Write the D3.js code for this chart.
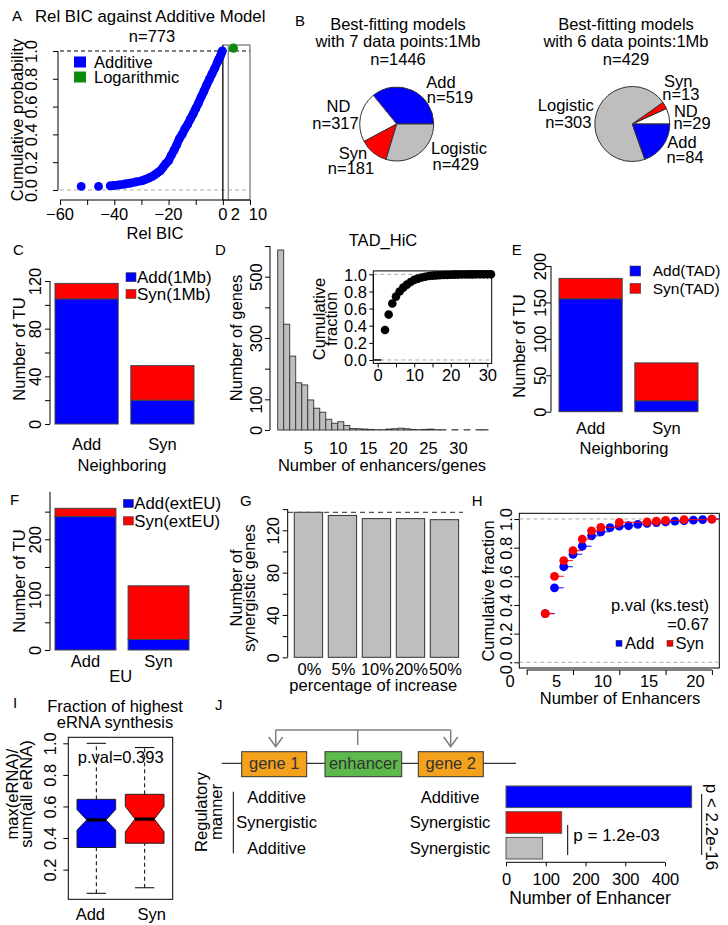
<!DOCTYPE html>
<html><head><meta charset="utf-8">
<script src="https://cdn.jsdelivr.net/npm/d3@7"></script>
<style>
body{margin:0;background:#fff;}
svg text{font-family:"Liberation Sans",Arial,Helvetica,sans-serif;}
</style></head><body>
<svg id="fig" width="728" height="925"></svg>
<script>
// ---------------- DATA ----------------
// A: cumulative distribution of relative BIC
const aRelBIC = [-52.2,-45.8,-41.5,-40,-38,-36,-34,-32,-30,-29,-28,-27,-26,-25,-24,-23,-22,-21,-20,-19,-18,-17,-16,-15,-14,-13,-12,-11,-10,-9,-8,-7,-6,-5,-4,-3,-2,-1.5,-1,-0.5,-0.2];
const aCumProb = [0.026,0.026,0.03,0.033,0.037,0.043,0.05,0.058,0.066,0.072,0.08,0.088,0.098,0.11,0.125,0.14,0.165,0.19,0.21,0.25,0.285,0.325,0.37,0.40,0.44,0.47,0.51,0.545,0.585,0.625,0.67,0.71,0.755,0.795,0.835,0.875,0.92,0.94,0.96,0.985,1.0];
const aLogRelBIC = [3.9];
const aLogCumProb = [1.02];
const aXTicks = [-60,-50,-40,-30,-20,-10,0,10];
const aXLabels = [-60,-40,-20,0,2,10];
const aYTicks = [0,0.2,0.4,0.6,0.8,1.0];

// B: pies (counter-clockwise from 3 o'clock, R style)
const pie1Cats = ["Add","ND","Syn","Logistic"];
const pie1Vals = [519,317,181,429];
const pie2Cats = ["ND","Syn","Logistic","Add"];
const pie2Vals = [29,13,303,84];

// C, E, F: stacked bars
const tuCats = ["Add","Syn"];
const cAddVals = [105,20];
const cSynVals = [13,29];
const eAddVals = [155,15];
const eSynVals = [28,52];
const fAddVals = [241,19];
const fSynVals = [15,97];

// D: histogram of enhancers per gene + inset ECDF
const dBins = [1,2,3,4,5,6,7,8,9,10,11,12,13,14,15,16,17,18,19,20,21,22,23,24,25,26,27,28,29,30,31,32,33,34,35];
const dCounts = [587,345,241,154,147,98,71,58,35,22,27,15,5,4,3,2,1,1,3,4,6,4,2,1,2,3,1,1,0,1,0,1,0,1,1];
const dXLabels = [5,10,15,20,25,30];
const dYTicks = [0,100,200,300,400,500,600];
const dYLabels = [0,100,300,500];
const dInsetX = [2,3,4,5,6,7,8,9,10,11,12,13,14,15,16,17,18,19,20,21,22,23,24,25,26,27,28,29,30,31];
const dInsetY = [0.35,0.53,0.66,0.74,0.80,0.845,0.88,0.91,0.935,0.95,0.963,0.972,0.98,0.985,0.988,0.99,0.992,0.993,0.995,0.996,0.997,0.998,0.998,0.999,0.999,1,1,1,1,1];

// G
const gCats = ["0%","5%","10%","20%","50%"];
const gVals = [137,134,131,131,130];

// H: ECDF of number of enhancers
const hAddX = [2,3,4,5,6,7,8,9,10,11,12,13,14,15,16,17,18,19,20];
const hAddY = [0.34,0.52,0.667,0.754,0.81,0.883,0.911,0.94,0.95,0.953,0.963,0.97,0.975,0.98,0.985,0.988,0.992,0.996,1.0];
const hSynX = [2,3,4,5,6,7,8,10,13,14,15,17,20];
const hSynY = [0.34,0.60,0.71,0.78,0.86,0.918,0.942,0.977,0.98,0.985,0.99,0.996,1.0];

// I: boxplots
const iCats = ["Add","Syn"];
const iMin = [0.05,0.085];
const iQ1 = [0.34,0.367];
const iMed = [0.515,0.52];
const iQ3 = [0.645,0.677];
const iMax = [1.0,0.973];
const iNotchLo = [0.45,0.44];
const iNotchHi = [0.58,0.60];

// J
const jGene1 = ["Additive","Synergistic","Additive"];
const jGene2 = ["Additive","Synergistic","Synergistic"];
const jVals = [467,140,92];
const jTicks = [0,100,200,300,400];

// ---------------- HELPERS ----------------
const BLUE="#0000FF", RED="#FF0000", GRAY="#BEBEBE", GREEN="#0b8a0b";
const FS=16.5;
const svg = d3.select("#fig");
svg.append("rect").attr("width",728).attr("height",925).attr("fill","#fff");

function T(g,x,y,s,o={}){
  const size=o.size||FS;
  const t=g.append("text").attr("font-size",size).attr("text-anchor",o.anchor||"middle")
    .attr("fill",o.fill||"#000").text(s);
  if(o.rotate){t.attr("transform",`translate(${x},${y}) rotate(${o.rotate})`).attr("dy",size*0.35);}
  else t.attr("x",x).attr("y",y).attr("dy",size*0.35);
  return t;
}
function L(g,x1,y1,x2,y2,stroke="#000",w=1,dash=null){
  const l=g.append("line").attr("x1",x1).attr("y1",y1).attr("x2",x2).attr("y2",y2)
    .attr("stroke",stroke).attr("stroke-width",w);
  if(dash) l.attr("stroke-dasharray",dash);
  return l;
}
function yAxis(g,scale,x,ticks,labeled,labelX,fmt,opts={}){
  const ax=d3.axisLeft(scale).tickValues(ticks).tickSize(opts.tickSize||5).tickSizeOuter(0)
    .tickFormat(d=>labeled.includes(d)?fmt(d):"");
  const a=g.append("g").attr("transform",`translate(${x},0)`).call(ax);
  a.select(".domain").remove();
  if(!opts.noLine){
    const hi=opts.lineTo!==undefined?opts.lineTo:ticks[ticks.length-1];
    a.append("line").attr("y1",scale(ticks[0])).attr("y2",scale(hi)).attr("stroke","#000");
  }
  a.selectAll(".tick line").attr("stroke","#000");
  const tx=a.selectAll(".tick text").attr("font-size",opts.size||FS).attr("fill","#000")
    .attr("x",0).attr("y",0).attr("dy",(opts.size||FS)*0.35);
  if(opts.horizontal) tx.attr("x",labelX-x).attr("text-anchor","end");
  else tx.attr("transform",`translate(${labelX-x},0) rotate(-90)`).attr("text-anchor","middle");
  return a;
}
function xAxis(g,scale,y,ticks,labeled,labelY,fmt,opts={}){
  const ax=d3.axisBottom(scale).tickValues(ticks).tickSize(opts.tickSize===undefined?5:opts.tickSize)
    .tickSizeOuter(0).tickFormat(d=>labeled.includes(d)?fmt(d):"");
  const a=g.append("g").attr("transform",`translate(0,${y})`).call(ax);
  a.select(".domain").remove();
  if(!opts.noLine) a.append("line").attr("x1",scale(ticks[0])).attr("x2",scale(ticks[ticks.length-1])).attr("stroke","#000");
  a.selectAll(".tick line").attr("stroke","#000");
  a.selectAll(".tick text").attr("font-size",FS).attr("fill","#000")
    .attr("y",labelY-y).attr("dy",FS*0.35).attr("dx",opts.dx||0);
  return a;
}
const minus = v => v<0 ? "\u2212"+Math.abs(v) : String(v);
const f1 = d3.format(".1f");

// ---------------- PANEL A ----------------
{
  const g=svg.append("g");
  const x=d3.scaleLinear().domain([-60,10]).range([60,250]);
  const y=d3.scaleLinear().domain([-0.072,1.043]).range([200,45]);
  L(g,x(-60),y(0),x(10),y(0),"#aaa",1,"4,3");
  L(g,x(-60),y(1),x(10),y(1),"#000",1,"4,3");
  g.append("rect").attr("x",x(0)).attr("y",y(1.043)).attr("width",x(10)-x(0))
    .attr("height",y(-0.072)-y(1.043)).attr("fill","none").attr("stroke","#555");
  L(g,x(0),y(1.043),x(0),y(-0.072),"#000",1);
  L(g,x(2),y(1.043),x(2),y(-0.072),"#888",1.3);
  xAxis(g,x,y(-0.072),aXTicks,[],214,d=>"");
  aXLabels.forEach(v=>T(g,x(v)+(v===2?7:(v===10?8:0)),214,minus(v)));
  yAxis(g,y,58,aYTicks,aYTicks,31.7,f1);
  const pts=aRelBIC.map((v,i)=>[v,aCumProb[i]]);
  g.append("path").attr("d",d3.line().x(d=>x(d[0])).y(d=>y(d[1]))(pts.slice(2)))
    .attr("fill","none").attr("stroke",BLUE).attr("stroke-width",8.5).attr("stroke-linecap","round").attr("stroke-linejoin","round");
  g.selectAll(null).data(pts).join("circle").attr("cx",d=>x(d[0])).attr("cy",d=>y(d[1])).attr("r",4.4).attr("fill",BLUE);
  g.selectAll(null).data(aLogRelBIC).join("circle").attr("cx",d=>x(d)).attr("cy",(d,i)=>y(aLogCumProb[i])).attr("r",4.6).attr("fill",GREEN);
  g.append("rect").attr("x",74).attr("y",56.5).attr("width",12).attr("height",11).attr("fill",BLUE);
  g.append("rect").attr("x",74).attr("y",71.5).attr("width",12).attr("height",11).attr("fill",GREEN);
  T(g,94,62,"Additive",{anchor:"start"});
  T(g,94,77,"Logarithmic",{anchor:"start"});
  T(g,12,16,"A",{anchor:"start",size:15});
  T(g,35,16,"Rel BIC against Additive Model",{anchor:"start",size:16.8});
  T(g,152,36,"n=773");
  T(g,155,233,"Rel BIC");
  T(g,17.5,120,"Cumulative probability",{rotate:-90});
}

// ---------------- PANEL B ----------------
{
  const g=svg.append("g");
  T(g,295,21,"B",{anchor:"start",size:15});
  const pie=d3.pie().sort(null).value(d=>d).startAngle(Math.PI/2).endAngle(Math.PI/2-2*Math.PI);
  const colorOf={Add:BLUE,ND:"#fff",Syn:RED,Logistic:GRAY};
  function drawPie(cx,cy,r,cats,vals){
    const arc=d3.arc().innerRadius(0).outerRadius(r);
    const gp=g.append("g").attr("transform",`translate(${cx},${cy})`);
    gp.selectAll("path").data(pie(vals)).join("path").attr("d",arc)
      .attr("fill",(d,i)=>colorOf[cats[i]]).attr("stroke","#333").attr("stroke-width",1);
  }
  drawPie(396.7,124,37,pie1Cats,pie1Vals);
  drawPie(632.3,124,37.5,pie2Cats,pie2Vals);
  T(g,398,24.5,"Best-fitting models");
  T(g,398,41,"with 7 data points:1Mb");
  T(g,398,59,"n="+d3.sum(pie1Vals));
  T(g,626,24.5,"Best-fitting models");
  T(g,626,41,"with 6 data points:1Mb");
  T(g,626,59,"n="+d3.sum(pie2Vals));
  const v1=Object.fromEntries(pie1Cats.map((c,i)=>[c,pie1Vals[i]]));
  const v2=Object.fromEntries(pie2Cats.map((c,i)=>[c,pie2Vals[i]]));
  T(g,441,82,"Add"); T(g,450,97.5,"n="+v1.Add);
  T(g,338.5,106,"ND"); T(g,335.5,123,"n="+v1.ND);
  T(g,353,153,"Syn"); T(g,351,168.3,"n="+v1.Syn);
  T(g,459,148.3,"Logistic"); T(g,455.7,164,"n="+v1.Logistic);
  T(g,678.3,81.7,"Syn"); T(g,680.8,94.7,"n="+v2.Syn);
  T(g,685.8,111.7,"ND"); T(g,692,123.7,"n="+v2.ND);
  T(g,682,142,"Add"); T(g,685,157,"n="+v2.Add);
  T(g,565.8,105.5,"Logistic"); T(g,568.3,122.5,"n="+v2.Logistic);
}

// ---------------- stacked bar helper ----------------
function stacked(g,cats,addVals,synVals,xRange,yScale){
  const x=d3.scaleBand().domain(cats).range(xRange).paddingInner(1/6);
  const rows=cats.map((c,i)=>({cat:c,add:addVals[i],syn:synVals[i]}));
  const series=d3.stack().keys(["add","syn"])(rows);
  g.selectAll(null).data(series).join("g").attr("fill",(d,i)=>[BLUE,RED][i])
    .selectAll("rect").data(d=>d).join("rect")
    .attr("x",d=>x(d.data.cat)).attr("width",x.bandwidth())
    .attr("y",d=>yScale(d[1])).attr("height",d=>yScale(d[0])-yScale(d[1]))
    .attr("stroke","#444").attr("stroke-width",1);
  return x;
}
function legend2(g,sx,sy1,sy2,w,h,tx,labels,size){
  g.append("rect").attr("x",sx).attr("y",sy1).attr("width",w).attr("height",h).attr("fill",BLUE).attr("stroke","#444").attr("stroke-width",0.6);
  g.append("rect").attr("x",sx).attr("y",sy2).attr("width",w).attr("height",h).attr("fill",RED).attr("stroke","#444").attr("stroke-width",0.6);
  T(g,tx,sy1+h/2,labels[0],{anchor:"start",size:size||FS});
  T(g,tx,sy2+h/2,labels[1],{anchor:"start",size:size||FS});
}

// ---------------- PANEL C ----------------
{
  const g=svg.append("g");
  const y=d3.scaleLinear().domain([0,120]).range([424,281]);
  const x=stacked(g,tuCats,cAddVals,cSynVals,[55,194],y);
  yAxis(g,y,50,[0,20,40,60,80,100,120],[0,40,80,120],35,d=>d);
  tuCats.forEach(c=>T(g,x(c)+x.bandwidth()/2,444,c));
  T(g,122,465,"Neighboring");
  T(g,19,349,"Number of TU",{rotate:-90});
  legend2(g,126,272.7,289.5,10,9,137,["Add(1Mb)","Syn(1Mb)"],17);
  T(g,13,250,"C",{anchor:"start",size:15});
}

// ---------------- PANEL D ----------------
{
  const g=svg.append("g");
  const x=d3.scaleLinear().domain([0,35]).range([277.7,488]);
  const y=d3.scaleLinear().domain([0,600]).range([430,246]);
  g.selectAll(null).data(dBins).join("rect")
    .attr("x",d=>x(d-1)).attr("width",d=>x(d)-x(d-1))
    .attr("y",(d,i)=>y(dCounts[i])).attr("height",(d,i)=>y(0)-y(dCounts[i]))
    .attr("fill",GRAY).attr("stroke","#333").attr("stroke-width",0.9);
  yAxis(g,y,270,dYTicks,dYLabels,255.8,d=>d);
  xAxis(g,x,430,dXLabels,dXLabels,448,d=>d,{tickSize:0,noLine:true});
  T(g,382,465,"Number of enhancers/genes");
  T(g,236,338,"Number of genes",{rotate:-90});
  T(g,383,240,"TAD_HiC");
  T(g,215,250,"D",{anchor:"start",size:15});
  // inset
  const xi=d3.scaleLinear().domain([-1.2,31.2]).range([373.3,491.7]);
  const yi=d3.scaleLinear().domain([-0.04,1.04]).range([363.4,270.9]);
  g.append("rect").attr("x",xi(-1.2)).attr("y",yi(1.04)).attr("width",xi(31.2)-xi(-1.2))
    .attr("height",yi(-0.04)-yi(1.04)).attr("fill","#fff").attr("stroke","#000");
  L(g,xi(-1.2),yi(0),xi(31.2),yi(0),"#aaa",1,"4,3");
  L(g,xi(-1.2),yi(1),xi(31.2),yi(1),"#aaa",1,"4,3");
  L(g,xi(-1.1),yi(0),xi(1),yi(0),"#000",1.5);
  const ip=dInsetX.map((v,i)=>[v,dInsetY[i]]);
  g.selectAll(null).data(ip.slice(0,-1)).join("line")
    .attr("x1",d=>xi(d[0])).attr("x2",(d,i)=>xi(ip[i+1][0])).attr("y1",d=>yi(d[1])).attr("y2",d=>yi(d[1]))
    .attr("stroke","#000").attr("stroke-width",1.5);
  g.selectAll(null).data(ip).join("circle").attr("cx",d=>xi(d[0])).attr("cy",d=>yi(d[1])).attr("r",4.3).attr("fill","#000");
  xAxis(g,xi,363.4,[0,5,10,15,20,25,30],[0,10,20,30],375.5,d=>d,{tickSize:4});
  yAxis(g,yi,373.3,aYTicks,aYTicks,367,f1,{horizontal:true,tickSize:4});
  T(g,319,319,"Cumulative",{rotate:-90});
  T(g,331.7,319,"fraction",{rotate:-90});
}

// ---------------- PANEL E ----------------
{
  const g=svg.append("g");
  const y=d3.scaleLinear().domain([0,200]).range([411.7,266]);
  const x=stacked(g,tuCats,eAddVals,eSynVals,[559,698],y);
  yAxis(g,y,551,[0,50,100,150,200],[0,50,100,150,200],540.7,d=>d);
  tuCats.forEach(c=>T(g,x(c)+x.bandwidth()/2,428,c));
  T(g,624,448,"Neighboring");
  T(g,519,346,"Number of TU",{rotate:-90});
  legend2(g,630,266,283.3,10.7,10,652.7,["Add(TAD)","Syn(TAD)"],15.5);
  T(g,511.7,250,"E",{anchor:"start",size:15});
}

// ---------------- PANEL F ----------------
{
  const g=svg.append("g");
  const y=d3.scaleLinear().domain([0,200]).range([650,539.3]);
  const x=stacked(g,tuCats,fAddVals,fSynVals,[55,189],y);
  yAxis(g,y,50,[0,50,100,150,200,250],[0,100,200],35,d=>d,{lineTo:286});
  tuCats.forEach(c=>T(g,x(c)+x.bandwidth()/2,661,c));
  T(g,120.7,676,"EU");
  T(g,19,581,"Number of TU",{rotate:-90});
  legend2(g,123.3,499.3,516.7,10,8.3,134.3,["Add(extEU)","Syn(extEU)"],16.8);
  T(g,10,500,"F",{anchor:"start",size:15});
}

// ---------------- PANEL G ----------------
{
  const g=svg.append("g");
  const y=d3.scaleLinear().domain([0,140]).range([657.3,509.1]);
  const x=d3.scaleBand().domain(gCats).range([288.6,464.3]).paddingInner(1/6).paddingOuter(1/6);
  g.selectAll(null).data(gCats).join("rect").attr("x",d=>x(d)).attr("width",x.bandwidth())
    .attr("y",(d,i)=>y(gVals[i])).attr("height",(d,i)=>y(0)-y(gVals[i]))
    .attr("fill",GRAY).attr("stroke","#333").attr("stroke-width",1);
  L(g,288,y(gVals[0]),463,y(gVals[0]),"#555",1.2,"5,4");
  yAxis(g,y,287.7,[0,20,40,60,80,100,120,140],[0,40,80,120],273,d=>d);
  gCats.forEach(c=>T(g,x(c)+x.bandwidth()/2+1,669,c));
  T(g,373.3,685,"percentage of increase");
  T(g,236,588,"Number of",{rotate:-90});
  T(g,249,588,"synergistic genes",{rotate:-90});
  T(g,240,501,"G",{anchor:"start",size:15});
}

// ---------------- PANEL H ----------------
{
  const g=svg.append("g");
  const x=d3.scaleLinear().domain([-0.8,20.8]).range([519.3,719.3]);
  const y=d3.scaleLinear().domain([-0.04,1.04]).range([668,513.3]);
  g.append("rect").attr("x",x(-0.8)).attr("y",y(1.04)).attr("width",x(20.8)-x(-0.8))
    .attr("height",y(-0.04)-y(1.04)).attr("fill","none").attr("stroke","#000");
  L(g,x(-0.8),y(0),x(20.8),y(0),"#aaa",1,"4,3");
  L(g,x(-0.8),y(1),x(20.8),y(1),"#aaa",1,"4,3");
  function ecdf(xs,ys,col){
    const p=xs.map((v,i)=>[v,ys[i]]);
    g.selectAll(null).data(p).join("line")
      .attr("x1",d=>x(d[0])).attr("x2",(d,i)=>i<p.length-1?x(p[i+1][0]):x(20.8))
      .attr("y1",d=>y(d[1])).attr("y2",d=>y(d[1])).attr("stroke",col).attr("stroke-width",1.2).attr("opacity",0.8);
    g.selectAll(null).data(p).join("circle").attr("cx",d=>x(d[0])).attr("cy",d=>y(d[1])).attr("r",4.4).attr("fill",col);
  }
  ecdf(hAddX,hAddY,BLUE);
  ecdf(hSynX,hSynY,RED);
  yAxis(g,y,519.3,aYTicks,aYTicks,506.7,f1,{noLine:true});
  xAxis(g,x,670,[0,5,10,15,20],[0,5,10,15,20],681,d=>d,{dx:-17});
  T(g,620,698,"Number of Enhancers");
  T(g,488,591,"Cumulative fraction",{rotate:-90});
  T(g,709,605,"p.val (ks.test)",{anchor:"end"});
  T(g,709,624,"=0.67",{anchor:"end"});
  g.append("rect").attr("x",616).attr("y",640.3).attr("width",6).attr("height",6).attr("fill",BLUE).attr("stroke","#333").attr("stroke-width",0.5);
  g.append("rect").attr("x",667).attr("y",640.3).attr("width",6).attr("height",6).attr("fill",RED).attr("stroke","#333").attr("stroke-width",0.5);
  T(g,625,643,"Add",{anchor:"start"});
  T(g,675.5,643,"Syn",{anchor:"start"});
  T(g,471.7,501,"H",{anchor:"start",size:15});
}

// ---------------- PANEL I ----------------
{
  const g=svg.append("g");
  const x=d3.scaleLinear().domain([0.42,2.58]).range([68.3,172.7]);
  const y=d3.scaleLinear().domain([0.012,1.038]).range([899.3,737.3]);
  const fills=[BLUE,RED];
  iCats.forEach((c,i)=>{
    const cx=x(i+1), hw=x(1.4)-x(1), cw=hw/2;
    L(g,cx,y(iQ3[i]),cx,y(iMax[i]),"#000",1,"4,3");
    L(g,cx,y(iMin[i]),cx,y(iQ1[i]),"#000",1,"4,3");
    L(g,cx-cw,y(iMax[i]),cx+cw,y(iMax[i]),"#000",1);
    L(g,cx-cw,y(iMin[i]),cx+cw,y(iMin[i]),"#000",1);
    const pts=[[cx-hw,iQ1[i]],[cx-hw,iNotchLo[i]],[cx-cw,iMed[i]],[cx-hw,iNotchHi[i]],[cx-hw,iQ3[i]],
      [cx+hw,iQ3[i]],[cx+hw,iNotchHi[i]],[cx+cw,iMed[i]],[cx+hw,iNotchLo[i]],[cx+hw,iQ1[i]]];
    g.append("path").attr("d",d3.line().x(d=>d[0]).y(d=>y(d[1]))(pts)+"Z")
      .attr("fill",fills[i]).attr("stroke","#222").attr("stroke-width",1);
    L(g,cx-cw,y(iMed[i]),cx+cw,y(iMed[i]),"#000",3.2);
    T(g,cx+(i===0?-6:7),914,c);
  });
  g.append("rect").attr("x",x(0.42)).attr("y",y(1.038)).attr("width",x(2.58)-x(0.42))
    .attr("height",y(0.012)-y(1.038)).attr("fill","none").attr("stroke","#000");
  yAxis(g,y,68.3,[0.2,0.4,0.6,0.8,1.0],[0.2,0.4,0.6,0.8,1.0],50,f1,{noLine:true});
  T(g,120.7,757.3,"p.val=0.393");
  T(g,115,706,"Fraction of highest");
  T(g,115,722.5,"eRNA synthesis");
  T(g,12.5,794,"max(eRNA)/",{rotate:-90});
  T(g,26,794,"sum(all eRNA)",{rotate:-90});
  T(g,13,703,"I",{anchor:"start",size:15});
}

// ---------------- PANEL J ----------------
{
  const g=svg.append("g");
  T(g,215,705,"J",{anchor:"start",size:15});
  L(g,221.7,763.3,516,763.3,"#000",1);
  const boxes=[["gene 1",241.7,306.7,"#F4A11D"],["enhancer",325,401.7,"#5DB94C"],["gene 2",418.3,483.3,"#F4A11D"]];
  boxes.forEach(b=>{
    g.append("rect").attr("x",b[1]).attr("y",751.7).attr("width",b[2]-b[1]).attr("height",25)
      .attr("fill",b[3]).attr("stroke","#333").attr("stroke-width",1);
    T(g,(b[1]+b[2])/2,763,b[0],{fill:"#333"});
  });
  const ac="#808080";
  L(g,275.7,730,450.7,730,ac,1.5);
  L(g,357.7,730,357.7,745,ac,1.5);
  [275.7,450.7].forEach(ax=>{
    L(g,ax,730,ax,746.5,ac,1.5);
    g.append("path").attr("d",`M${ax-7},737 L${ax},746.7 L${ax+7},737`).attr("fill","none").attr("stroke",ac).attr("stroke-width",1.5);
  });
  const x=d3.scaleLinear().domain([0,400]).range([506,665]);
  const idx=jVals.map((v,i)=>i);
  const y=d3.scaleBand().domain(idx).range([786,859]).paddingInner(0.16);
  const cols=[BLUE,RED,GRAY];
  g.selectAll(null).data(idx).join("rect").attr("x",x(0)).attr("y",d=>y(d))
    .attr("width",d=>x(jVals[d])-x(0)).attr("height",y.bandwidth())
    .attr("fill",d=>cols[d]).attr("stroke","#555").attr("stroke-width",1);
  idx.forEach(i=>{
    T(g,276.7,y(i)+y.bandwidth()/2,jGene1[i]);
    T(g,450,y(i)+y.bandwidth()/2,jGene2[i]);
  });
  xAxis(g,x,862.3,jTicks,jTicks,879,d=>d,{tickSize:4});
  T(g,590,898,"Number of Enhancer",{size:17.5});
  L(g,233.3,791.7,233.3,853.3,"#000",1);
  T(g,201.7,812,"Regulatory",{rotate:-90});
  T(g,216,812,"manner",{rotate:-90});
  L(g,567.7,825,567.7,855,"#000",1);
  T(g,573.3,835,"p = 1.2e-03",{anchor:"start",size:17});
  L(g,701.7,794,701.7,855,"#000",1);
  T(g,711.7,827,"p < 2.2e-16",{rotate:90,size:17});
}
</script>
</body></html>
